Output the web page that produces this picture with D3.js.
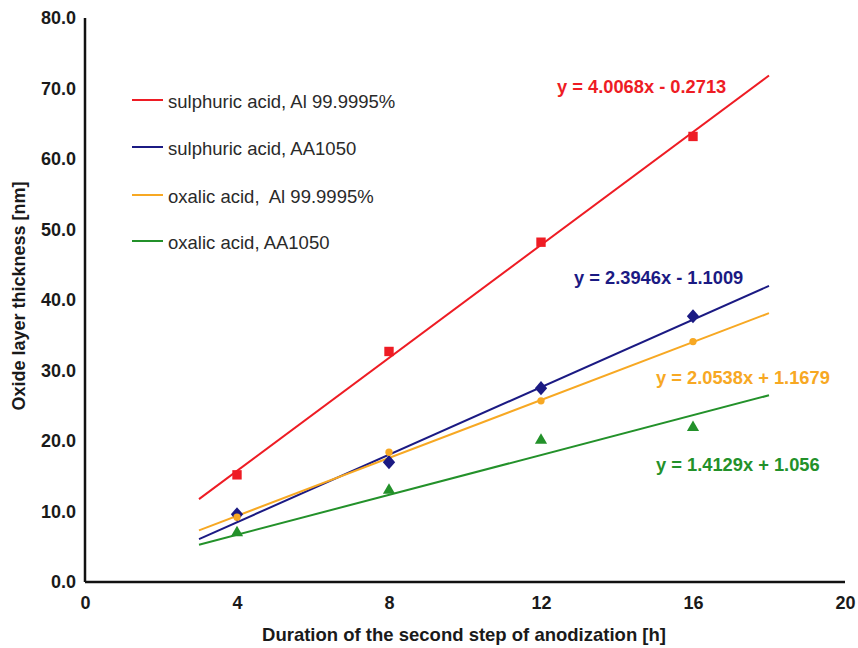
<!DOCTYPE html>
<html><head><meta charset="utf-8">
<script src="https://cdn.jsdelivr.net/npm/d3@7"></script>
<style>body{margin:0;background:#fff}svg{display:block}text{font-family:"Liberation Sans",Arial,sans-serif}</style>
</head><body>
<svg id="c" width="858" height="648"></svg>
<script>
const hours = [4, 8, 12, 16];
const seriesNames = ["sulphuric acid, Al 99.9995%", "sulphuric acid, AA1050", "oxalic acid,  Al 99.9995%", "oxalic acid, AA1050"];
const sulphuricPure = [15.2, 32.7, 48.2, 63.2];
const sulphuric1050 = [9.6, 17.0, 27.5, 37.7];
const oxalicPure = [9.2, 18.4, 25.7, 34.1];
const oxalic1050 = [7.0, 13.0, 20.1, 21.9];
const slopes = [4.0068, 2.3946, 2.0538, 1.4129];
const intercepts = [-0.2713, -1.1009, 1.1679, 1.056];
const equations = ["y = 4.0068x - 0.2713", "y = 2.3946x - 1.1009", "y = 2.0538x + 1.1679", "y = 1.4129x + 1.056"];
const trendRange = [3, 18];
const xTicks = [0, 4, 8, 12, 16, 20];
const yTicks = [0, 10, 20, 30, 40, 50, 60, 70, 80];

const colors = ["#ee1c24", "#1b1a83", "#f7a823", "#23912a"];
const diamond = { draw(ctx, size) { const w = Math.sqrt(size) * 0.55, h = w * 1.15;
  ctx.moveTo(0, -h); ctx.lineTo(w, 0); ctx.lineTo(0, h); ctx.lineTo(-w, 0); ctx.closePath(); } };
const symbols = [d3.symbolSquare, diamond, d3.symbolCircle, d3.symbolTriangle];
const symSize = [88, 125, 42, 64];
const values = [sulphuricPure, sulphuric1050, oxalicPure, oxalic1050];

const svg = d3.select("#c");
const x = d3.scaleLinear().domain([0, 20]).range([85, 845]);
const y = d3.scaleLinear().domain([0, 80]).range([582, 18]);

// axes
const xAxis = svg.append("g").attr("transform", `translate(0,${y(0)})`)
  .call(d3.axisBottom(x).tickValues(xTicks).tickSize(0).tickPadding(14).tickFormat(d3.format("d")));
const yAxis = svg.append("g").attr("transform", `translate(${x(0)},0)`)
  .call(d3.axisLeft(y).tickValues(yTicks).tickSize(0).tickPadding(9).tickFormat(d3.format(".1f")));
[xAxis, yAxis].forEach(a => {
  a.select(".domain").attr("stroke", "#111").attr("stroke-width", 2.5);
  a.selectAll("text").attr("font-size", 18).attr("font-weight", "bold").attr("fill", "#1a1a1a")
    .attr("font-family", '"Liberation Sans",Arial,sans-serif');
});
xAxis.select(".domain").attr("d", `M${x(0)},0H${x(20)}`);
yAxis.select(".domain").attr("d", `M0,${y(0)}V${y(80)}`);

svg.append("text").attr("x", 464).attr("y", 641).attr("text-anchor", "middle")
  .attr("font-size", 18.5).attr("font-weight", "bold").attr("fill", "#1a1a1a")
  .text("Duration of the second step of anodization [h]");
svg.append("text").attr("transform", "translate(25,296) rotate(-90)").attr("text-anchor", "middle")
  .attr("font-size", 18).attr("font-weight", "bold").attr("fill", "#1a1a1a")
  .text("Oxide layer thickness [nm]");

// trend lines
values.forEach((vals, i) => {
  svg.append("line")
    .attr("x1", x(trendRange[0])).attr("y1", y(slopes[i] * trendRange[0] + intercepts[i]))
    .attr("x2", x(trendRange[1])).attr("y2", y(slopes[i] * trendRange[1] + intercepts[i]))
    .attr("stroke", colors[i]).attr("stroke-width", 2);
});
// markers
values.forEach((vals, i) => {
  svg.append("g").selectAll("path").data(vals).join("path")
    .attr("transform", (d, j) => `translate(${x(hours[j])},${y(d)})`)
    .attr("d", d3.symbol().type(symbols[i]).size(symSize[i]))
    .attr("fill", colors[i]);
});

// equations
const eqPos = [[557, 92.5], [574, 283.5], [656, 383.5], [656, 470.5]];
equations.forEach((t, i) => {
  svg.append("text").attr("x", eqPos[i][0]).attr("y", eqPos[i][1])
    .attr("font-size", 18.3).attr("font-weight", "bold").attr("fill", colors[i]).text(t);
});

// legend
const legY = [101, 148, 196, 242];
seriesNames.forEach((n, i) => {
  svg.append("line").attr("x1", 132).attr("x2", 163).attr("y1", legY[i] - 1).attr("y2", legY[i] - 1)
    .attr("stroke", colors[i]).attr("stroke-width", 2);
  svg.append("text").attr("x", 168).attr("y", legY[i] + 6.5).attr("font-size", 18.5)
    .attr("fill", "#2a2a2a").style("white-space", "pre").attr("xml:space", "preserve").text(n);
});
</script>
</body></html>
